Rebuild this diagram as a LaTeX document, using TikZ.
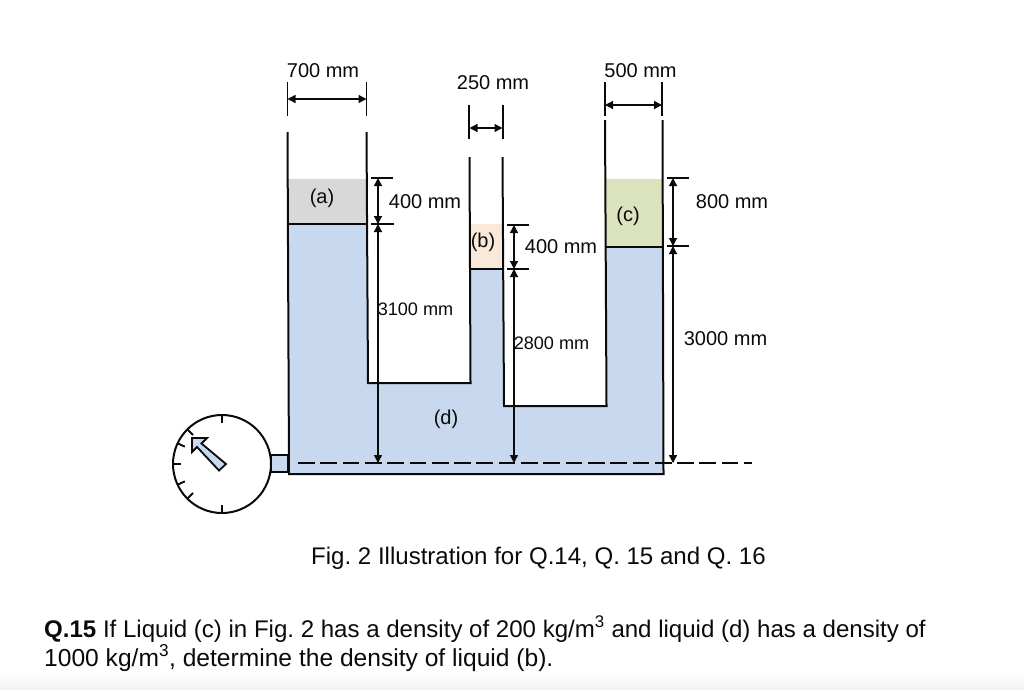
\documentclass[tikz,border=0pt]{standalone}
\usepackage{fontspec}
\setmainfont{Liberation Sans}
\usetikzlibrary{arrows.meta}
\definecolor{liqblue}{RGB}{200,216,239}
\definecolor{liqgray}{RGB}{216,216,216}
\definecolor{liqpeach}{RGB}{250,232,216}
\definecolor{liqgreen}{RGB}{218,227,190}
\definecolor{ink}{RGB}{10,10,10}
\definecolor{pagefade}{RGB}{243,243,243}
\tikzset{
  wall/.style={draw=ink,line width=2pt},
  thin wall/.style={draw=ink,line width=1.4pt},
  tick/.style={draw=ink,line width=1.9pt},
  dim/.style={draw=ink,line width=1.3pt,{Triangle[length=8pt,width=8pt]}-{Triangle[length=8pt,width=8pt]}},
  dimtext/.style={font=\fontsize{20pt}{22pt}\selectfont,text=ink,inner sep=0pt},
  small dim/.style={font=\fontsize{18.1pt}{20pt}\selectfont,text=ink,inner sep=0pt},
  caption/.style={font=\fontsize{24.05pt}{26pt}\selectfont\frenchspacing,text=ink,inner sep=0pt,anchor=base west},
  caption wide/.style={font=\fontsize{24.6pt}{26pt}\selectfont\frenchspacing,text=ink,inner sep=0pt,anchor=base west},
}
\begin{document}
\begin{tikzpicture}[x=1pt,y=-1pt]
\useasboundingbox (0,0) rectangle (1024,689);
% page edge fade
\shade[top color=white,bottom color=pagefade] (0,670) rectangle (1024,689);
% liquids
\fill[liqgray] (288,179) rectangle (367,224);
\fill[liqpeach] (470,224) rectangle (503,269);
\fill[liqgreen] (606,179) rectangle (663,247);
\fill[liqblue] (288,224) -- (367,224) -- (368,383) -- (470,383) -- (470,269) -- (503,269) -- (504,406) -- (606,406) -- (606,247) -- (663,247) -- (663,474) -- (289,474) -- cycle;
% vessel
\draw[wall,line join=miter] (287.5,132) -- (289,474) -- (663.5,474) -- (662.5,120);
\draw[wall] (366.5,132) -- (368,383) -- (470.5,383) -- (469.5,157);
\draw[wall] (502.5,157) -- (504,406) -- (606.5,406) -- (605,120);
% interfaces
\draw[thin wall] (288,224) -- (367,224);
\draw[thin wall] (470,269) -- (503,269);
\draw[thin wall] (606,247) -- (663,247);
% top width dimensions
\coordinate (aL) at (287.5,99); \coordinate (aR) at (366.5,99);
\coordinate (bL) at (469.5,128); \coordinate (bR) at (502.5,128);
\coordinate (cL) at (605,105); \coordinate (cR) at (662,105);
\draw[tick] (287.5,82) -- (287.5,116); \draw[tick] (366.5,82) -- (366.5,116);
\draw[tick] (469,105) -- (469,139); \draw[tick] (503,105) -- (503,139);
\draw[tick] (605,82) -- (605,116); \draw[tick] (662,82) -- (662,116);
\draw[dim] (aL) -- (aR);
\draw[dim] (bL) -- (bR);
\draw[dim] (cL) -- (cR);
% height ticks
\draw[tick] (371,178) -- (393,178); \draw[tick] (371,224) -- (394,224);
\draw[tick] (507,225) -- (529,225); \draw[tick] (507,269) -- (529,269);
\draw[tick] (667,178) -- (689,178); \draw[tick] (667,246) -- (689,246);
% datum
\draw[draw=ink,line width=2pt,dash pattern=on 16.7pt off 5.6pt] (298,463) -- (752,463);
% height dimensions
\coordinate (h1) at (378,178); \coordinate (h2) at (378,224); \coordinate (h3) at (378,463);
\coordinate (h4) at (514,225); \coordinate (h5) at (514,269); \coordinate (h6) at (514,463);
\coordinate (h7) at (673,178); \coordinate (h8) at (673,246); \coordinate (h9) at (673,463);
\draw[dim] (h1) -- (h2);
\draw[dim] (h2) -- (h3);
\draw[dim] (h4) -- (h5);
\draw[dim] (h5) -- (h6);
\draw[dim] (h7) -- (h8);
\draw[dim] (h8) -- (h9);
% gauge
\draw[draw=ink,line width=2pt,fill=liqblue] (271,455) rectangle (288,472);
\node[circle,draw=ink,line width=2pt,fill=white,minimum size=98pt,inner sep=0pt] (gauge) at (222,464) {};
\foreach \a in {90,135,155,180,205,225,270}
  \draw[tick] (gauge.center) ++(\a:41) -- ++(\a:8);
\draw[draw=ink,line width=1.8pt,fill=liqblue,line join=miter] (192,438) -- (207,438) -- (201.5,443.5) -- (226,464) -- (219,470.5) -- (197,447) -- (192,452) -- cycle;
% labels
\node[dimtext] (t1) at (323,71) {700 mm};
\node[dimtext] (t2) at (493,83) {250 mm};
\node[dimtext] (t3) at (640.5,71) {500 mm};
\node[dimtext] (t4) at (425,202) {400 mm};
\node[dimtext] (t5) at (561,247) {400 mm};
\node[dimtext] (t6) at (732,202) {800 mm};
\node[small dim] (t7) at (415.5,309) {3100 mm};
\node[small dim] (t8) at (551.5,343) {2800 mm};
\node[dimtext] (t9) at (725.5,339) {3000 mm};
\node[dimtext] (la) at (322,198) {(a)};
\node[dimtext] (lb) at (483,242) {(b)};
\node[dimtext] (lc) at (628,216) {(c)};
\node[dimtext] (ld) at (446,419) {(d)};
\node[caption] (fig) at (311,564) {Fig. 2 Illustration for Q.14, Q. 15 and Q. 16};
\node[caption] (q1) at (44,637) {\textbf{Q.15} If Liquid (c) in Fig. 2 has a density of 200 kg/m\textsuperscript{3} and liquid (d) has a density of};
\node[caption wide] (q2) at (44,666) {1000 kg/m\textsuperscript{3}, determine the density of liquid (b).};
\end{tikzpicture}
\end{document}
